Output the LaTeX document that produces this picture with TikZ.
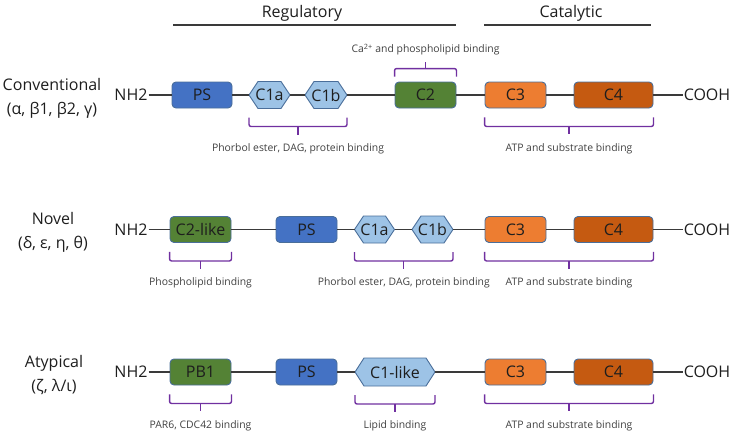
\documentclass[tikz,border=0pt]{standalone}
\usepackage{fontspec}
\setmainfont{Open Sans}
\usetikzlibrary{calc}
\definecolor{psc}{HTML}{4472C4}
\definecolor{hexc}{HTML}{9DC3E6}
\definecolor{grc}{HTML}{548235}
\definecolor{cthree}{HTML}{ED7D31}
\definecolor{cfour}{HTML}{C55A11}
\definecolor{bordc}{HTML}{4A6E9A}
\definecolor{brkc}{HTML}{7030A0}
\definecolor{linec}{HTML}{3A3A3A}
\definecolor{labc}{HTML}{404040}
\definecolor{txtc}{HTML}{1E1E1E}
\newcommand\brdown[4]{%
  \coordinate (#3l) at ($(#1.west |- #1.south)+(0,9)$);
  \coordinate (#3r) at ($(#2.east |- #2.south)+(0,9)$);
  \draw[brk] (#3l) -- ++(0,9) -- ($(#3r)+(0,9)$) -- (#3r);
  \draw[brk] ($(#3l)!0.5!(#3r)+(0,9)$) -- ++(0,8);
  \node[lab] (#3) at ($(#3l)!0.5!(#3r)+(0,31)$) {#4};}
% hexagon: name, x, y, width, height, text
\newcommand\hexdom[6]{%
  \node[hexbox, minimum width=#4pt, minimum height=#5pt] (#1) at (#2,#3) {#6};
  \draw[hexd] (#1.west) -- ($(#1.north west)+(9,0)$) -- ($(#1.north east)+(-9,0)$) -- (#1.east)
     -- ($(#1.south east)+(-9,0)$) -- ($(#1.south west)+(9,0)$) -- cycle;
  \node[hexbox, minimum width=#4pt, minimum height=#5pt] at (#1) {#6};}
\begin{document}
\begin{tikzpicture}[x=1pt,y=-1pt,
  dom/.style={draw=bordc, line width=0.9pt, rounded corners=4pt, minimum height=26pt, inner sep=0pt, font=\fontsize{16}{16}\selectfont, text=txtc},
  hexbox/.style={inner sep=0pt, outer sep=0pt, font=\fontsize{16}{16}\selectfont, text=txtc},
  hexd/.style={draw=bordc, line width=0.9pt, fill=hexc, line join=round},
  txt/.style={inner sep=1pt, font=\fontsize{16}{16}\selectfont, text=txtc},
  grp/.style={align=center, inner sep=0pt, font=\fontsize{16}{24}\selectfont, text=txtc},
  lab/.style={inner sep=0pt, font=\fontsize{10.4}{10.4}\selectfont, text=labc},
  bb/.style={draw=linec, line width=1.5pt},
  brk/.style={draw=brkc, line width=1.4pt, rounded corners=2pt},
  hdr/.style={draw=linec, line width=1.2pt}]
\useasboundingbox (0,0) rectangle (740,439);

% headers
\node[txt] (reg) at (302,13) {Regulatory};
\node[txt] (cat) at (571,13) {Catalytic};
\coordinate (rega) at (173,25); \coordinate (regb) at (456,25);
\coordinate (cata) at (484,25); \coordinate (catb) at (651,25);
\draw[hdr] (rega) -- (regb);
\draw[hdr] (cata) -- (catb);

% row 1
\node[grp] (g1) at (52,98) {Conventional\\(α, β1, β2, γ)};
\node[txt] (n1) at (131,95) {NH2};
\node[dom, fill=psc, minimum width=60pt] (ps1) at (202,95) {PS};
\hexdom{ca1}{269.5}{95}{41}{27}{C1a}
\hexdom{cb1}{326}{95}{42}{27}{C1b}
\node[dom, fill=grc, minimum width=61pt] (cc1) at (425.5,95) {C2};
\node[dom, fill=cthree, minimum width=61pt] (cd1) at (515.5,95) {C3};
\node[dom, fill=cfour, minimum width=79pt] (ce1) at (613.5,95) {C4};
\node[txt] (co1) at (707,95) {COOH};
\draw[bb] (n1) -- (ps1) (ps1) -- (ca1) (ca1) -- (cb1) (cb1) -- (cc1) (cc1) -- (cd1) (cd1) -- (ce1) (ce1) -- (co1);
\brdown{ca1}{cb1}{la1}{Phorbol ester, DAG, protein binding}
\brdown{cd1}{ce1}{lb1}{ATP and substrate binding}
\coordinate (upl) at ($(cc1.north west)+(0,-5)$);
\coordinate (upr) at ($(cc1.north east)+(0,-5)$);
\draw[brk] (upl) -- ++(0,-8) -- ($(upr)+(0,-8)$) -- (upr);
\draw[brk] ($(upl)!0.5!(upr)+(0,-8)$) -- ++(0,-7);
\node[lab] (lc1) at ($(upl)!0.5!(upr)+(0,-27)$) {Ca\textsuperscript{2+} and phospholipid binding};

% row 2
\node[grp] (g2) at (53,232.5) {Novel\\(δ, ε, η, θ)};
\node[txt] (n2) at (131,229.5) {NH2};
\node[dom, fill=grc, minimum width=61pt] (ca2) at (200.5,229.5) {C2-like};
\node[dom, fill=psc, minimum width=61pt] (cb2) at (306.5,229.5) {PS};
\hexdom{cc2}{374.5}{229.5}{40}{27}{C1a}
\hexdom{cd2}{432.5}{229.5}{41}{27}{C1b}
\node[dom, fill=cthree, minimum width=61pt] (ce2) at (515.5,229.5) {C3};
\node[dom, fill=cfour, minimum width=79pt] (cf2) at (613.5,229.5) {C4};
\node[txt] (co2) at (707,229.5) {COOH};
\draw[bb] (n2) -- (ca2) (ca2) -- (cb2) (cb2) -- (cc2) (cc2) -- (cd2) (cd2) -- (ce2) (ce2) -- (cf2) (cf2) -- (co2);
\brdown{ca2}{ca2}{la2}{Phospholipid binding}
\brdown{cc2}{cd2}{lb2}{Phorbol ester, DAG, protein binding}
\brdown{ce2}{cf2}{lc2}{ATP and substrate binding}

% row 3
\node[grp] (g3) at (54,375) {Atypical\\(ζ, λ/ι)};
\node[txt] (n3) at (131,372) {NH2};
\node[dom, fill=grc, minimum width=61pt] (ca3) at (200.5,372) {PB1};
\node[dom, fill=psc, minimum width=61pt] (cb3) at (306.5,372) {PS};
\hexdom{cc3}{395}{372}{80}{28}{C1-like}
\node[dom, fill=cthree, minimum width=61pt] (cd3) at (515.5,372) {C3};
\node[dom, fill=cfour, minimum width=79pt] (ce3) at (613.5,372) {C4};
\node[txt] (co3) at (707,372) {COOH};
\draw[bb] (n3) -- (ca3) (ca3) -- (cb3) (cb3) -- (cc3) (cc3) -- (cd3) (cd3) -- (ce3) (ce3) -- (co3);
\brdown{ca3}{ca3}{la3}{PAR6, CDC42 binding}
\brdown{cc3}{cc3}{lb3}{Lipid binding}
\brdown{cd3}{ce3}{lc3}{ATP and substrate binding}
\end{tikzpicture}
\end{document}
